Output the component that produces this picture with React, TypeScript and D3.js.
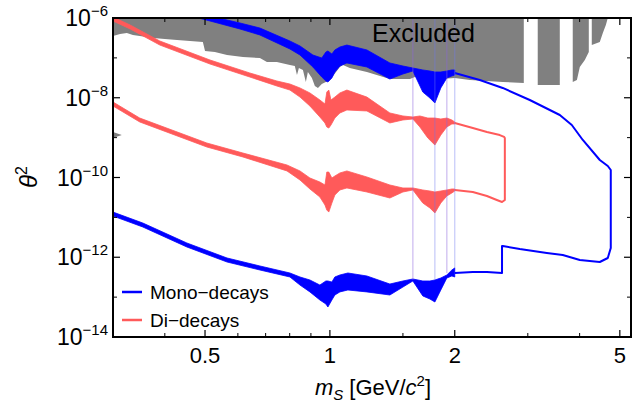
import React from "react";
import * as d3 from "d3";

type BandRow = [number, number, number]; // [mass GeV, upper θ², lower θ²]
type Pt = [number, number]; // [mass GeV, θ²]

// ---- axis ticks ----
const massMajorTicks = [0.5, 1, 2, 5];
const massTickLabels = ["0.5", "1", "2", "5"];
const massMinorTicks = [0.4, 0.6, 0.7, 0.8, 0.9, 1.5, 3, 4];
const thetaMajorTicks = [1e-6, 1e-8, 1e-10, 1e-12, 1e-14];
const thetaTickExponents = ["−6", "−8", "−10", "−12", "−14"];
const thetaMinorTicks = [1e-7, 1e-9, 1e-11, 1e-13];

const legendLabels = ["Mono−decays", "Di−decays"];
const excludedLabel = "Excluded";

// ---- Mono-decays: upper boundary band (m <= 2 GeV) ----
const monoUpperBand: BandRow[] = [
  [0.30, 5.65e-6, 4.49e-6],
  [0.435, 1.78e-6, 1.33e-6],
  [0.514, 1.12e-6, 8.41e-7],
  [0.607, 7.5e-7, 5.3e-7],
  [0.678, 5.61e-7, 3.75e-7],
  [0.801, 2.65e-7, 1.67e-7],
  [0.847, 1.99e-7, 1.18e-7],
  [0.910, 1.18e-7, 5.9e-8],
  [0.956, 9.93e-8, 3.31e-8],
  [0.978, 1.40e-7, 2.63e-8],
  [0.989, 1.49e-7, 2.48e-8],
  [1.011, 1.25e-7, 3.13e-8],
  [1.028, 1.58e-7, 4.43e-8],
  [1.057, 1.87e-7, 6.25e-8],
  [1.099, 2.1e-7, 7.44e-8],
  [1.228, 1.58e-7, 5.9e-8],
  [1.395, 7.44e-8, 2.95e-8],
  [1.50, 6.25e-8, 3.94e-8],
  [1.585, 5.57e-8, 4.69e-8],
  [1.675, 4.97e-8, 1.39e-8],
  [1.742, 4.69e-8, 9.86e-9],
  [1.791, 4.43e-8, 7.38e-9],
  [1.851, 4.43e-8, 1.76e-8],
  [1.914, 4.69e-8, 3.13e-8],
  [1.968, 4.97e-8, 3.51e-8],
  [2.0, 4.97e-8, 3.72e-8],
];

// ---- Mono-decays: lower boundary band (m <= 2 GeV) ----
const monoLowerBand: BandRow[] = [
  [0.30, 1.36e-11, 1.08e-11],
  [0.354, 7.22e-12, 5.74e-12],
  [0.452, 2.28e-12, 1.81e-12],
  [0.565, 9.58e-13, 7.6e-13],
  [0.678, 6.04e-13, 4.79e-13],
  [0.801, 4.03e-13, 3.2e-13],
  [0.847, 3.2e-13, 2.01e-13],
  [0.895, 2.69e-13, 1.35e-13],
  [0.946, 2.01e-13, 8.47e-14],
  [0.978, 2.54e-13, 6.73e-14],
  [0.989, 2.54e-13, 5.65e-14],
  [1.011, 2.39e-13, 8.47e-14],
  [1.028, 3.2e-13, 1.13e-13],
  [1.057, 3.59e-13, 1.35e-13],
  [1.105, 4.03e-13, 1.51e-13],
  [1.228, 3.39e-13, 1.35e-13],
  [1.395, 2.13e-13, 1.13e-13],
  [1.50, 2.54e-13, 1.79e-13],
  [1.585, 2.85e-13, 2.54e-13],
  [1.675, 2.54e-13, 1.07e-13],
  [1.742, 2.54e-13, 8.97e-14],
  [1.791, 2.69e-13, 7.55e-14],
  [1.851, 3.02e-13, 1.51e-13],
  [1.914, 3.59e-13, 3.02e-13],
  [1.968, 4.79e-13, 3.39e-13],
  [2.0, 5.4e-13, 3.2e-13],
];

// ---- Mono-decays: contour above 2 GeV (upper -> right edge -> lower) ----
const monoOutline: Pt[] = [
  [2.0, 4.18e-8],
  [2.298, 2.79e-8],
  [2.61, 1.76e-8],
  [3.033, 8.79e-9],
  [3.583, 3.69e-9],
  [3.83, 2.07e-9],
  [4.071, 8.73e-10],
  [4.474, 2.75e-10],
  [4.677, 1.94e-10],
  [4.755, 1.54e-10],
  [4.755, 1.71e-12],
  [4.677, 9.58e-13],
  [4.474, 7.6e-13],
  [4.004, 8.53e-13],
  [3.643, 1.14e-12],
  [3.334, 1.28e-12],
  [2.87, 1.61e-12],
  [2.61, 1.91e-12],
  [2.60, 1.91e-12],
  [2.60, 4.03e-13],
  [2.391, 4.27e-13],
  [2.211, 4.27e-13],
  [2.0, 4.03e-13],
];

// ---- Di-decays: upper boundary band ----
const diUpperBand: BandRow[] = [
  [0.30, 1.06e-6, 8.41e-7],
  [0.33, 6.67e-7, 5.3e-7],
  [0.389, 2.65e-7, 2.1e-7],
  [0.514, 8.85e-8, 7.02e-8],
  [0.641, 4.18e-8, 3.31e-8],
  [0.745, 2.63e-8, 1.97e-8],
  [0.801, 2.21e-8, 1.56e-8],
  [0.847, 1.76e-8, 1.04e-8],
  [0.895, 1.32e-8, 6.21e-9],
  [0.946, 8.79e-9, 3.29e-9],
  [0.973, 6.97e-9, 2.33e-9],
  [0.983, 1.39e-8, 1.85e-9],
  [0.994, 1.56e-8, 1.74e-9],
  [1.006, 8.79e-9, 2.07e-9],
  [1.028, 1.04e-8, 3.1e-9],
  [1.057, 1.32e-8, 4.15e-9],
  [1.099, 1.56e-8, 4.93e-9],
  [1.228, 1.04e-8, 4.66e-9],
  [1.395, 4.15e-9, 2.33e-9],
  [1.50, 3.49e-9, 2.77e-9],
  [1.585, 3.29e-9, 2.93e-9],
  [1.648, 3.49e-9, 1.85e-9],
  [1.722, 3.1e-9, 9.8e-10],
  [1.791, 3.1e-9, 6.53e-10],
  [1.851, 2.93e-9, 1.16e-9],
  [1.914, 3.1e-9, 1.85e-9],
  [1.968, 2.77e-9, 2.2e-9],
  [2.0, 2.47e-9, 2.2e-9],
];

// ---- Di-decays: lower boundary band ----
const diLowerBand: BandRow[] = [
  [0.30, 7.82e-9, 6.21e-9],
  [0.348, 3.1e-9, 2.47e-9],
  [0.505, 7.33e-10, 5.82e-10],
  [0.617, 4.11e-10, 3.27e-10],
  [0.788, 2.06e-10, 1.46e-10],
  [0.847, 1.46e-10, 8.65e-11],
  [0.895, 9.72e-11, 5.15e-11],
  [0.946, 7.71e-11, 3.24e-11],
  [0.973, 6.49e-11, 2.04e-11],
  [0.983, 1.37e-10, 1.53e-11],
  [0.994, 1.37e-10, 1.36e-11],
  [1.011, 9.72e-11, 2.29e-11],
  [1.028, 1.09e-10, 3.64e-11],
  [1.057, 1.30e-10, 4.86e-11],
  [1.099, 1.46e-10, 5.46e-11],
  [1.228, 1.03e-10, 4.33e-11],
  [1.395, 6.49e-11, 3.06e-11],
  [1.50, 5.46e-11, 4.33e-11],
  [1.585, 5.46e-11, 4.86e-11],
  [1.675, 4.86e-11, 2.29e-11],
  [1.742, 4.59e-11, 1.72e-11],
  [1.791, 4.33e-11, 1.29e-11],
  [1.851, 4.59e-11, 2.29e-11],
  [1.914, 4.86e-11, 3.44e-11],
  [1.968, 5.15e-11, 4.09e-11],
  [2.0, 5.15e-11, 4.59e-11],
];

// ---- Di-decays: contour above 2 GeV ----
const diOutline: Pt[] = [
  [2.0, 2.33e-9],
  [2.211, 1.74e-9],
  [2.391, 1.38e-9],
  [2.568, 1.16e-9],
  [2.63, 1.04e-9],
  [2.641, 9.8e-10],
  [2.641, 2.73e-11],
  [2.60, 2.43e-11],
  [2.526, 2.73e-11],
  [2.391, 3.44e-11],
  [2.211, 4.33e-11],
  [2.0, 4.86e-11],
];

// ---- Excluded region: lower edge (region extends up to 1e-6) ----
const excludedEdge: Pt[] = [
  [0.30, 3.54e-7],
  [0.312, 3.97e-7],
  [0.324, 4.2e-7],
  [0.335, 3.75e-7],
  [0.348, 3.54e-7],
  [0.375, 3.15e-7],
  [0.40, 2.97e-7],
  [0.428, 2.81e-7],
  [0.46, 2.65e-7],
  [0.494, 2.5e-7],
  [0.50, 1.49e-7],
  [0.528, 1.40e-7],
  [0.565, 1.18e-7],
  [0.617, 1.05e-7],
  [0.678, 9.93e-8],
  [0.705, 7.88e-8],
  [0.745, 7.88e-8],
  [0.801, 6.62e-8],
  [0.823, 6.25e-8],
  [0.833, 3.72e-8],
  [0.842, 5.57e-8],
  [0.861, 4.97e-8],
  [0.875, 2.48e-8],
  [0.885, 4.43e-8],
  [0.905, 3.13e-8],
  [0.92, 1.97e-8],
  [0.936, 1.76e-8],
  [0.956, 2.21e-8],
  [1.0, 2.79e-8],
  [1.057, 5.9e-8],
  [1.075, 6.62e-8],
  [1.117, 5.57e-8],
  [1.228, 4.43e-8],
  [1.395, 2.95e-8],
  [1.559, 2.95e-8],
  [1.648, 3.72e-8],
  [1.841, 2.95e-8],
  [2.0, 3.13e-8],
  [2.175, 2.79e-8],
  [2.61, 2.48e-8],
  [2.934, 2.34e-8],
  [2.934, 1e-6],
  [3.17, 1e-6],
  [3.17, 2.09e-8],
  [3.583, 2.09e-8],
  [3.583, 1e-6],
  [3.85, 1e-6],
  [3.85, 2.48e-8],
  [3.94, 2.79e-8],
  [4.004, 5.9e-8],
  [4.117, 8.85e-8],
  [4.209, 1.40e-7],
  [4.209, 1e-6],
  [4.279, 1e-6],
  [4.279, 2.1e-7],
  [4.474, 2.5e-7],
  [4.55, 4.2e-7],
  [4.627, 6.67e-7],
  [4.677, 1e-6],
];

const excludedSliver: Pt[] = [
  [0.30, 1.38e-9],
  [0.315, 1.16e-9],
  [0.30, 9.8e-10],
];

// ---- thin vertical guide lines ----
const guideMasses = [1.585, 1.791, 1.914, 2.0];
const guideBottoms = [2.69e-13, 2.69e-13, 4.03e-13, 5.4e-13];

const BLUE = "#0000ff";
const RED = "#ff5a5a";
const GREY = "#808080";
const FONT = "'Liberation Sans', Arial, Helvetica, sans-serif";

export default function App() {
  const W = 643;
  const H = 403;
  const left = 113;
  const right = 631;
  const top = 18;
  const bottom = 337;

  const x = d3.scaleLog().domain([0.3, 5.32]).range([left, right]);
  const y = d3.scaleLog().domain([1e-14, 1e-6]).range([bottom, top]);

  const band = d3
    .area<BandRow>()
    .x((d) => x(d[0]))
    .y0((d) => y(d[2]))
    .y1((d) => y(d[1]));
  const line = d3
    .line<Pt>()
    .x((d) => x(d[0]))
    .y((d) => y(d[1]));
  const excl = d3
    .area<Pt>()
    .x((d) => x(d[0]))
    .y0((d) => y(d[1]))
    .y1(() => top - 2);

  const majLen = 7;
  const minLen = 4;

  return (
    <svg
      width={W}
      height={H}
      style={{ position: "absolute", left: 0, top: 0, background: "#fff" }}
      fontFamily={FONT}
    >
      <defs>
        <clipPath id="plotClip">
          <rect x={left} y={top} width={right - left} height={bottom - top} />
        </clipPath>
      </defs>
      <rect x={0} y={0} width={W} height={H} fill="#fff" />
      <g clipPath="url(#plotClip)">
        <path d={excl(excludedEdge) || ""} fill={GREY} />
        <path d={(line(excludedSliver) || "") + "Z"} fill={GREY} />

        <path d={band(diUpperBand) || ""} fill={RED} stroke={RED} strokeWidth={0.8} />
        <path d={band(diLowerBand) || ""} fill={RED} stroke={RED} strokeWidth={0.8} />
        <path d={line(diOutline) || ""} fill="none" stroke={RED} strokeWidth={2} strokeLinejoin="round" />

        <path d={band(monoUpperBand) || ""} fill={BLUE} stroke={BLUE} strokeWidth={0.8} />
        <path d={band(monoLowerBand) || ""} fill={BLUE} stroke={BLUE} strokeWidth={0.8} />
        <path d={line(monoOutline) || ""} fill="none" stroke={BLUE} strokeWidth={2} strokeLinejoin="round" />

        {guideMasses.map((m, i) => (
          <line
            key={"g" + i}
            x1={x(m)}
            x2={x(m)}
            y1={top}
            y2={y(guideBottoms[i])}
            stroke={i % 2 === 0 ? "rgba(140,100,220,0.45)" : "rgba(110,120,240,0.4)"}
            strokeWidth={1.2}
          />
        ))}
      </g>

      <text x={372} y={42} fontSize={25} fill="#000">
        {excludedLabel}
      </text>

      {/* frame */}
      <rect x={left} y={top} width={right - left} height={bottom - top} fill="none" stroke="#000" strokeWidth={2} />

      {/* x ticks */}
      {massMajorTicks.map((m, i) => (
        <g key={"xm" + i}>
          <line x1={x(m)} x2={x(m)} y1={bottom} y2={bottom - majLen} stroke="#000" strokeWidth={1.2} />
          <line x1={x(m)} x2={x(m)} y1={top} y2={top + majLen} stroke="#000" strokeWidth={1.2} />
          <text x={x(m)} y={363} fontSize={22} textAnchor="middle">
            {massTickLabels[i]}
          </text>
        </g>
      ))}
      {massMinorTicks.map((m, i) => (
        <g key={"xn" + i}>
          <line x1={x(m)} x2={x(m)} y1={bottom} y2={bottom - minLen} stroke="#000" strokeWidth={1} />
          <line x1={x(m)} x2={x(m)} y1={top} y2={top + minLen} stroke="#000" strokeWidth={1} />
        </g>
      ))}

      {/* y ticks */}
      {thetaMajorTicks.map((t, i) => (
        <g key={"ym" + i}>
          <line x1={left} x2={left + majLen} y1={y(t)} y2={y(t)} stroke="#000" strokeWidth={1.2} />
          <line x1={right} x2={right - majLen} y1={y(t)} y2={y(t)} stroke="#000" strokeWidth={1.2} />
          <text x={108} y={y(t) + 8} fontSize={23} textAnchor="end">
            10
            <tspan fontSize={15} dy={-10}>
              {thetaTickExponents[i]}
            </tspan>
          </text>
        </g>
      ))}
      {thetaMinorTicks.map((t, i) => (
        <g key={"yn" + i}>
          <line x1={left} x2={left + minLen} y1={y(t)} y2={y(t)} stroke="#000" strokeWidth={1} />
          <line x1={right} x2={right - minLen} y1={y(t)} y2={y(t)} stroke="#000" strokeWidth={1} />
        </g>
      ))}

      {/* axis titles */}
      <text x={373} y={395} fontSize={22} textAnchor="middle">
        <tspan fontStyle="italic">m</tspan>
        <tspan fontStyle="italic" fontSize={15} dy={5}>
          S
        </tspan>
        <tspan dy={-5}> [GeV/</tspan>
        <tspan fontStyle="italic">c</tspan>
        <tspan fontSize={15} dy={-9}>
          2
        </tspan>
        <tspan dy={9}>]</tspan>
      </text>
      <text transform="translate(37,177) rotate(-90)" fontSize={24} textAnchor="middle">
        <tspan fontStyle="italic">θ</tspan>
        <tspan fontSize={16} dy={-10}>
          2
        </tspan>
      </text>

      {/* legend */}
      <line x1={122} x2={142} y1={292} y2={292} stroke={BLUE} strokeWidth={2.5} />
      <text x={150} y={299} fontSize={19}>
        {legendLabels[0]}
      </text>
      <line x1={122} x2={142} y1={320} y2={320} stroke={RED} strokeWidth={2.5} />
      <text x={150} y={327} fontSize={19}>
        {legendLabels[1]}
      </text>
    </svg>
  );
}
